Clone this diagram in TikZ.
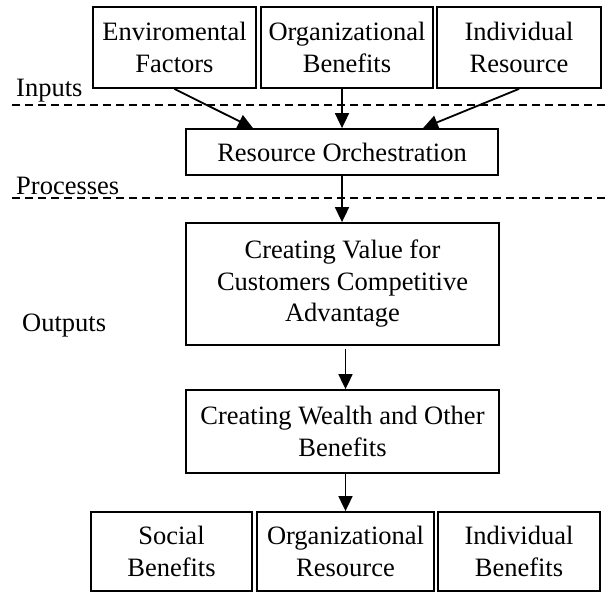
\documentclass[tikz,border=0pt]{standalone}
\usepackage{fontspec}
\setmainfont{Liberation Serif}
\usetikzlibrary{arrows.meta}

\begin{document}
\begin{tikzpicture}[x=1pt,y=-1pt]
        \tikzset{
          box/.style={draw=black, line width=1.8pt, align=center, inner sep=0pt,
            font=\fontsize{26.5}{31.5}\selectfont},
          tag/.style={inner sep=0pt, anchor=base west, font=\fontsize{26.5}{31.5}\selectfont},
          divider/.style={black, line width=1.3pt, dash pattern=on 8pt off 5pt},
          arr/.style={black, line width=1.8pt, -{Triangle[length=15pt,width=14pt]}}
        }
        \useasboundingbox (0,0) rectangle (605,592);
        % inputs
        \node [box, minimum width=163, minimum height=81] (env) at (174.5,47.5) {Enviromental\\Factors};
        \node [box, minimum width=172, minimum height=81] (orgb) at (347,47.5) {Organizational\\Benefits};
        \node [box, minimum width=164, minimum height=81] (indr) at (519,47.5) {Individual\\Resource};
        \node [tag] (inputs) at (16,96) {Inputs};
        \draw [divider] (12,105) -- (605,105);
        % processes
        \node [box, minimum width=312, minimum height=46] (ro) at (342,152) {Resource Orchestration};
        \node [tag] (processes) at (16,194) {Processes};
        \draw [divider] (12,198) -- (605,198);
        \draw [arr] (env.south) -- ([xshift=-89pt]ro.north);
        \draw [arr] (orgb.south -| ro.north) -- (ro.north);
        \draw [arr] (indr.south) -- ([xshift=81pt]ro.north);
        % outputs
        \node [box, minimum width=313, minimum height=122] (cv) at (342.5,284) {Creating Value for\\Customers Competitive\\Advantage};
        \node [tag] (outputs) at (22,331) {Outputs};
        \node [box, minimum width=313, minimum height=83] (cw) at (342.5,431.5) {Creating Wealth and Other\\Benefits};
        \node [box, minimum width=161, minimum height=79] (socb) at (171.5,551.5) {Social\\Benefits};
        \node [box, minimum width=177, minimum height=79] (orgr) at (345.5,551.5) {Organizational\\Resource};
        \node [box, minimum width=162, minimum height=79] (indb) at (519,551.5) {Individual\\Benefits};
        \draw [arr] (ro.south) -- (cv.north -| ro.south);
        \draw [arr] ([yshift=-3pt]cv.south -| orgr.north) -- (cw.north -| orgr.north);
        \draw [arr] (cw.south -| orgr.north) -- (orgr.north);
\end{tikzpicture}
\end{document}
